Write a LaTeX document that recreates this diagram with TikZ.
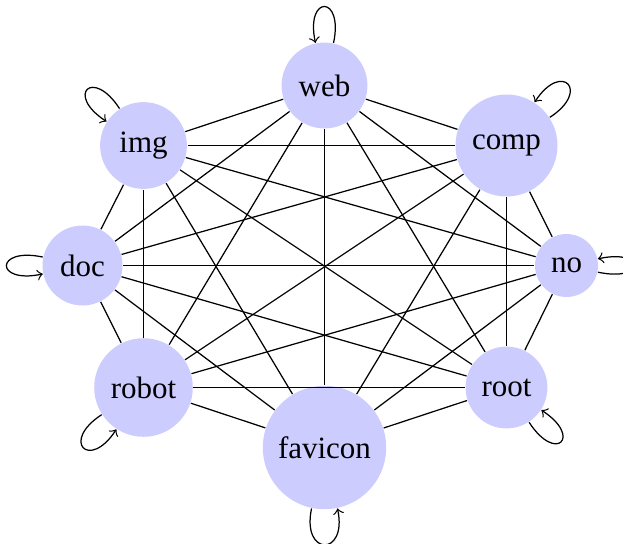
\documentclass[tikz,border=0pt]{standalone}
\usepackage{fontspec}
\setmainfont{Liberation Serif}
\begin{document}
\begin{tikzpicture}[x=0.32258pt,y=-0.32258pt,
  vertex/.style={circle,fill=blue!20,inner sep=0pt,outer sep=0.2pt,
    font=\fontsize{10}{12}\selectfont},
  link/.style={line width=0.4pt,black},
  selfloop/.style={->,line width=0.4pt,min distance=5.6mm}]
\useasboundingbox (0,0) rectangle (623,544);

% vertices
\node[vertex,minimum size=27.7pt] (web)     at (324.5,85.5)  {web};
\node[vertex,minimum size=32.9pt] (comp)    at (506.5,145.5) {comp};
\node[vertex,minimum size=20.3pt] (no)      at (566.5,265.5) {no};
\node[vertex,minimum size=26.4pt] (root)    at (506.5,387.5) {root};
\node[vertex,minimum size=39.8pt] (favicon) at (324.5,447.5) {favicon};
\node[vertex,minimum size=31.8pt] (robot)   at (143.5,387.5) {robot};
\node[vertex,minimum size=25.8pt] (doc)     at (82.5,265.5)  {doc};
\node[vertex,minimum size=28.0pt] (img)     at (143.5,145.5) {img};

% every pair of vertices is joined
\foreach \a/\b in {web/comp,web/no,web/root,web/favicon,web/robot,web/doc,web/img,
  comp/no,comp/root,comp/favicon,comp/robot,comp/doc,comp/img,
  no/root,no/favicon,no/robot,no/doc,no/img,
  root/favicon,root/robot,root/doc,root/img,
  favicon/robot,favicon/doc,favicon/img,
  robot/doc,robot/img,
  doc/img}
  \draw[link] (\a) -- (\b);

% self loops, each turning counterclockwise
\draw[selfloop] (web)     to[out=78,in=102]    (web);
\draw[selfloop] (comp)    to[out=33,in=57]     (comp);
\draw[selfloop] (no)      to[out=-12,in=12]    (no);
\draw[selfloop] (root)    to[out=-57,in=-33]   (root);
\draw[selfloop] (favicon) to[out=-102,in=-78]  (favicon);
\draw[selfloop] (robot)   to[out=-147,in=-123] (robot);
\draw[selfloop] (doc)     to[out=168,in=192]   (doc);
\draw[selfloop] (img)     to[out=123,in=147]   (img);
\end{tikzpicture}
\end{document}
